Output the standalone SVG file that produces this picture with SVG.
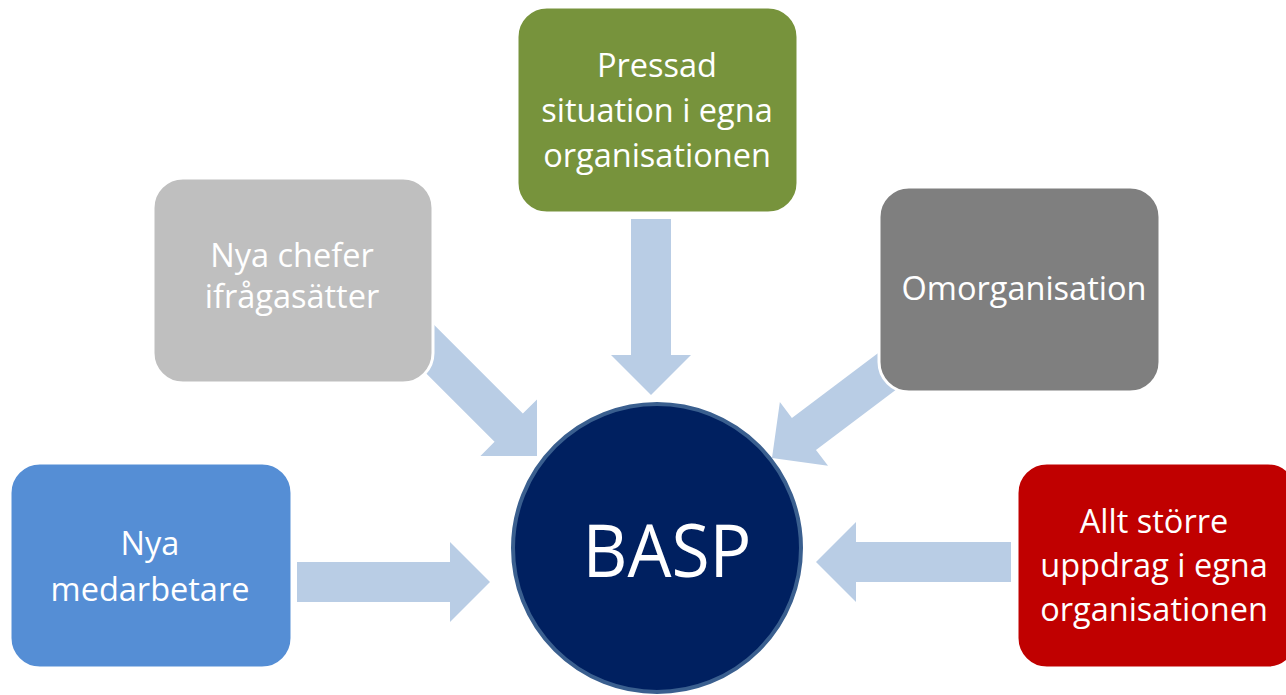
<svg xmlns="http://www.w3.org/2000/svg" width="1286" height="695" viewBox="0 0 1286 695">
  <defs>
    <style>
      .arrow { fill: #b9cde5; }
      .box { stroke: #ffffff; stroke-width: 3; }
      .lbl { font-family: "Open Sans", "Liberation Sans", sans-serif; font-size: 32.5px; fill: #ffffff; text-anchor: middle; }
      .core { font-family: "Open Sans", "Liberation Sans", sans-serif; font-size: 74px; fill: #ffffff; text-anchor: middle; }
    </style>
  </defs>
  <rect width="1286" height="695" fill="#ffffff"/>
  <g id="connectors">
    <!-- top arrow -->
    <polygon class="arrow" points="651,395 611,355 631,355 631,219 671,219 671,355 691,355"/>
    <!-- left arrow -->
    <polygon class="arrow" points="490,582 450,542 450,562 297,562 297,602 450,602 450,622"/>
    <!-- right arrow -->
    <polygon class="arrow" points="816,562 856,522 856,542 1011,542 1011,582 856,582 856,602"/>
    <!-- upper-left diagonal -->
    <polygon class="arrow" transform="translate(537,456) rotate(45)" points="0,0 -40,-40 -40,-20 -195,-20 -195,20 -40,20 -40,40"/>
    <!-- upper-right diagonal -->
    <polygon class="arrow" transform="translate(772,458) rotate(143)" points="0,0 -40,-40 -40,-20 -185,-20 -185,20 -40,20 -40,40"/>
  </g>
  <g id="node-green">
    <rect class="box" x="517" y="7" width="281" height="206" rx="30" fill="#77933c"/>
    <text class="lbl" x="657" y="77">Pressad</text>
    <text class="lbl" x="657" y="122">situation i egna</text>
    <text class="lbl" x="657" y="167">organisationen</text>
  </g>
  <g id="node-lightgray">
    <rect class="box" x="153" y="178" width="280" height="205" rx="30" fill="#bfbfbf"/>
    <text class="lbl" x="292" y="267">Nya chefer</text>
    <text class="lbl" x="292" y="308">ifrågasätter</text>
  </g>
  <g id="node-darkgray">
    <rect class="box" x="879" y="187" width="281" height="205" rx="30" fill="#7f7f7f"/>
    <text class="lbl" x="1024" y="300">Omorganisation</text>
  </g>
  <g id="node-blue">
    <rect class="box" x="10" y="463" width="282" height="205" rx="30" fill="#558ed5"/>
    <text class="lbl" x="150" y="555">Nya</text>
    <text class="lbl" x="150" y="601">medarbetare</text>
  </g>
  <g id="node-red">
    <rect class="box" x="1017" y="463" width="281" height="205" rx="30" fill="#c00000"/>
    <text class="lbl" x="1154" y="533">Allt större</text>
    <text class="lbl" x="1154" y="577">uppdrag i egna</text>
    <text class="lbl" x="1154" y="621">organisationen</text>
  </g>
  <g id="node-basp">
    <circle cx="657" cy="548" r="144" fill="#002060" stroke="#3a5f8f" stroke-width="4"/>
    <text class="core" x="667" y="577" textLength="169" lengthAdjust="spacingAndGlyphs">BASP</text>
  </g>
</svg>
